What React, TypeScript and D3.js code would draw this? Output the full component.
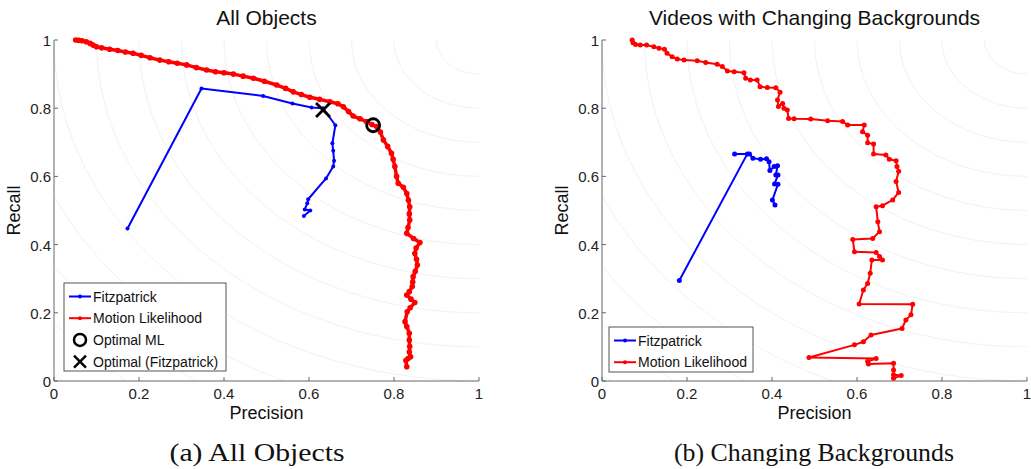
import React from 'react'
import * as d3 from 'd3'

// ---- data ----
const ticks = [0, 0.2, 0.4, 0.6, 0.8, 1]
const tickLabels = ['0', '0.2', '0.4', '0.6', '0.8', '1']
const arcRadii = [0.1, 0.2, 0.3, 0.4, 0.5, 0.6, 0.7, 0.8, 0.9, 1.0, 1.1, 1.2, 1.3, 1.4]

// (a) All Objects
const fitzAllP = [0.173, 0.347, 0.492, 0.561, 0.606, 0.633, 0.662, 0.655, 0.657, 0.659, 0.657, 0.640, 0.598, 0.596, 0.590, 0.603, 0.588]
const fitzAllR = [0.447, 0.858, 0.836, 0.814, 0.802, 0.800, 0.750, 0.697, 0.675, 0.646, 0.629, 0.594, 0.533, 0.521, 0.503, 0.500, 0.484]

const mlAllP = [0.051, 0.058, 0.066, 0.076, 0.085, 0.092, 0.100, 0.112, 0.131, 0.150, 0.168, 0.186, 0.205, 0.226, 0.249, 0.270, 0.290, 0.312, 0.335, 0.359, 0.380, 0.400, 0.422, 0.445, 0.469, 0.495, 0.524, 0.545, 0.563, 0.582, 0.602, 0.625, 0.649, 0.668, 0.681, 0.693, 0.704, 0.720, 0.735, 0.748, 0.759, 0.768, 0.775, 0.785, 0.794, 0.798, 0.802, 0.806, 0.810, 0.822, 0.830, 0.834, 0.837, 0.836, 0.837, 0.833, 0.830, 0.846, 0.861, 0.852, 0.849, 0.853, 0.855, 0.850, 0.845, 0.844, 0.843, 0.836, 0.830, 0.840, 0.849, 0.838, 0.831, 0.826, 0.830, 0.836, 0.836, 0.837, 0.836, 0.839, 0.833, 0.828, 0.830]
const mlAllR = [1.000, 0.999, 0.998, 0.995, 0.990, 0.985, 0.980, 0.977, 0.973, 0.969, 0.965, 0.961, 0.955, 0.948, 0.941, 0.936, 0.932, 0.927, 0.919, 0.912, 0.907, 0.904, 0.900, 0.894, 0.888, 0.879, 0.868, 0.858, 0.848, 0.840, 0.832, 0.826, 0.819, 0.813, 0.804, 0.790, 0.777, 0.769, 0.761, 0.752, 0.746, 0.730, 0.707, 0.688, 0.668, 0.650, 0.629, 0.600, 0.580, 0.568, 0.550, 0.530, 0.511, 0.490, 0.472, 0.450, 0.433, 0.418, 0.406, 0.390, 0.374, 0.357, 0.340, 0.322, 0.306, 0.290, 0.277, 0.262, 0.252, 0.240, 0.230, 0.215, 0.203, 0.174, 0.160, 0.140, 0.120, 0.101, 0.085, 0.071, 0.066, 0.060, 0.042]

const optMl = { p: 0.751, r: 0.750 }
const optFitz = { p: 0.633, r: 0.795 }

// (b) Changing Backgrounds
const fitzBgP = [0.182, 0.342, 0.312, 0.347, 0.355, 0.373, 0.387, 0.393, 0.395, 0.405, 0.413, 0.409, 0.414, 0.406, 0.414, 0.401, 0.407]
const fitzBgR = [0.295, 0.666, 0.666, 0.666, 0.653, 0.650, 0.652, 0.643, 0.617, 0.629, 0.631, 0.604, 0.604, 0.578, 0.577, 0.531, 0.516]

const mlBgP = [0.071, 0.073, 0.079, 0.090, 0.105, 0.122, 0.134, 0.147, 0.153, 0.165, 0.177, 0.193, 0.224, 0.244, 0.271, 0.283, 0.295, 0.311, 0.334, 0.338, 0.349, 0.365, 0.372, 0.389, 0.409, 0.419, 0.413, 0.415, 0.425, 0.428, 0.436, 0.439, 0.452, 0.491, 0.531, 0.566, 0.578, 0.617, 0.613, 0.625, 0.625, 0.639, 0.639, 0.668, 0.676, 0.692, 0.694, 0.698, 0.692, 0.698, 0.684, 0.660, 0.645, 0.649, 0.653, 0.637, 0.590, 0.594, 0.645, 0.653, 0.660, 0.635, 0.631, 0.625, 0.615, 0.605, 0.731, 0.727, 0.715, 0.706, 0.633, 0.615, 0.594, 0.487, 0.645, 0.625, 0.627, 0.686, 0.686, 0.686, 0.704, 0.686]
const mlBgR = [1.000, 0.992, 0.987, 0.985, 0.985, 0.980, 0.976, 0.973, 0.961, 0.951, 0.944, 0.941, 0.939, 0.934, 0.929, 0.922, 0.909, 0.907, 0.904, 0.888, 0.883, 0.883, 0.863, 0.861, 0.860, 0.847, 0.824, 0.805, 0.814, 0.800, 0.795, 0.770, 0.769, 0.768, 0.763, 0.761, 0.751, 0.751, 0.731, 0.721, 0.699, 0.695, 0.666, 0.663, 0.650, 0.646, 0.629, 0.615, 0.585, 0.553, 0.531, 0.514, 0.511, 0.467, 0.438, 0.418, 0.415, 0.379, 0.377, 0.365, 0.355, 0.355, 0.316, 0.286, 0.267, 0.226, 0.225, 0.194, 0.179, 0.154, 0.135, 0.115, 0.106, 0.069, 0.066, 0.057, 0.050, 0.052, 0.032, 0.018, 0.016, 0.008]

const SANS = '"Liberation Sans", Arial, Helvetica, sans-serif'
const SERIF = '"Liberation Serif", "DejaVu Serif", serif'
const AXIS = '#666'

type Series = { name: string; color: string; p: number[]; r: number[]; width: number; dot: number }

function Panel({ id, left, title, caption, series, markers, legend }: any) {
  const top = 40, bottom = 381, w = 425
  const x = d3.scaleLinear().domain([0, 1]).range([left, left + w])
  const y = d3.scaleLinear().domain([0, 1]).range([bottom, top])
  const line = d3.line<[number, number]>().x(d => x(d[0])).y(d => y(d[1]))
  const cx = x(1), cy = y(1)
  const midX = left + w / 2

  return (
    <g>
      <defs>
        <clipPath id={`clip-${id}`}>
          <rect x={left} y={top} width={w} height={bottom - top} />
        </clipPath>
      </defs>
      {/* background arcs around (1,1) */}
      <g clipPath={`url(#clip-${id})`}>
        {arcRadii.map(r => (
          <ellipse key={r} cx={cx} cy={cy} rx={x(r) - x(0)} ry={y(0) - y(r)} fill="none" stroke="#f2f2f2" strokeWidth={1} />
        ))}
      </g>
      {/* axes */}
      <line x1={left} x2={left} y1={top} y2={bottom} stroke={AXIS} />
      <line x1={left} x2={left + w} y1={bottom} y2={bottom} stroke={AXIS} />
      {ticks.map((t, i) => (
        <g key={`x${t}`}>
          <line x1={x(t)} x2={x(t)} y1={bottom} y2={bottom - 4} stroke={AXIS} />
          <text x={x(t)} y={bottom + 18} textAnchor="middle" fontFamily={SANS} fontSize={15} fill="#222">{tickLabels[i]}</text>
        </g>
      ))}
      {ticks.map((t, i) => (
        <g key={`y${t}`}>
          <line x1={left} x2={left + 4} y1={y(t)} y2={y(t)} stroke={AXIS} />
          <text x={left - 3} y={y(t) + 6} textAnchor="end" fontFamily={SANS} fontSize={15} fill="#222">{tickLabels[i]}</text>
        </g>
      ))}
      <text x={midX} y={25} textAnchor="middle" fontFamily={SANS} fontSize={21} fill="#111">{title}</text>
      <text x={midX} y={419} textAnchor="middle" fontFamily={SANS} fontSize={18} fill="#111">Precision</text>
      <text transform={`translate(${left - 34},${(top + bottom) / 2}) rotate(-90)`} textAnchor="middle" fontFamily={SANS} fontSize={18} fill="#111">Recall</text>
      <text x={caption.cx} y={461} textAnchor="middle" fontFamily={SERIF} fontSize={25} fill="#111" textLength={caption.len} lengthAdjust="spacingAndGlyphs">{caption.text}</text>

      {/* series */}
      {series.map((s: Series) => {
        const pts = s.p.map((p, i) => [p, s.r[i]] as [number, number])
        return (
          <g key={s.name}>
            <path d={line(pts) || ''} fill="none" stroke={s.color} strokeWidth={s.width} strokeLinejoin="round" />
            {pts.map((d, i) => <circle key={i} cx={x(d[0])} cy={y(d[1])} r={s.dot} fill={s.color} />)}
          </g>
        )
      })}

      {markers && (
        <g stroke="#000" strokeWidth={2.8} fill="none">
          <ellipse cx={x(markers.ml.p)} cy={y(markers.ml.r)} rx={6.5} ry={6.5} />
          <path d={`M${x(markers.fz.p) - 7},${y(markers.fz.r) - 7}L${x(markers.fz.p) + 7},${y(markers.fz.r) + 7}M${x(markers.fz.p) - 7},${y(markers.fz.r) + 7}L${x(markers.fz.p) + 7},${y(markers.fz.r) - 7}`} />
        </g>
      )}

      {/* legend */}
      <g>
        <rect x={legend.x} y={legend.y} width={legend.w} height={legend.h} fill="#fff" stroke="#555" strokeWidth={1} />
        {legend.items.map((it: any, i: number) => {
          const ly = legend.y + 13.5 + i * 21.7
          const lx = legend.x + 5
          return (
            <g key={it.label}>
              {it.kind === 'line' && (
                <g>
                  <line x1={lx} x2={lx + 22} y1={ly} y2={ly} stroke={it.color} strokeWidth={2} />
                  <circle cx={lx + 11} cy={ly} r={2} fill={it.color} />
                </g>
              )}
              {it.kind === 'o' && <circle cx={lx + 11} cy={ly} r={6} fill="none" stroke="#000" strokeWidth={2.5} />}
              {it.kind === 'x' && <path d={`M${lx + 5},${ly - 6}L${lx + 17},${ly + 6}M${lx + 5},${ly + 6}L${lx + 17},${ly - 6}`} stroke="#000" strokeWidth={2.5} />}
              <text x={lx + 24} y={ly + 5} fontFamily={SANS} fontSize={14} fill="#111">{it.label}</text>
            </g>
          )
        })}
      </g>
    </g>
  )
}

export default function App() {
  const seriesA: Series[] = [
    { name: 'Fitzpatrick', color: '#0000ff', p: fitzAllP, r: fitzAllR, width: 2, dot: 2 },
    { name: 'Motion Likelihood', color: '#ff0000', p: mlAllP, r: mlAllR, width: 3.5, dot: 2.8 },
  ]
  const seriesB: Series[] = [
    { name: 'Fitzpatrick', color: '#0000ff', p: fitzBgP, r: fitzBgR, width: 2, dot: 2.5 },
    { name: 'Motion Likelihood', color: '#ff0000', p: mlBgP, r: mlBgR, width: 2, dot: 2.5 },
  ]
  return (
    <svg width={1031} height={469} style={{ position: 'absolute', left: 0, top: 0, background: '#fff' }}>
      <rect width={1031} height={469} fill="#fff" />
      <Panel
        id="a" left={54} title="All Objects" caption={{ text: '(a) All Objects', cx: 257, len: 175 }} series={seriesA}
        markers={{ ml: optMl, fz: optFitz }}
        legend={{
          x: 64, y: 283, w: 162, h: 88,
          items: [
            { kind: 'line', color: '#0000ff', label: 'Fitzpatrick' },
            { kind: 'line', color: '#ff0000', label: 'Motion Likelihood' },
            { kind: 'o', label: 'Optimal ML' },
            { kind: 'x', label: 'Optimal (Fitzpatrick)' },
          ],
        }}
      />
      <Panel
        id="b" left={602} title="Videos with Changing Backgrounds" caption={{ text: '(b) Changing Backgrounds', cx: 814, len: 280 }} series={seriesB}
        legend={{
          x: 609, y: 327, w: 144, h: 45,
          items: [
            { kind: 'line', color: '#0000ff', label: 'Fitzpatrick' },
            { kind: 'line', color: '#ff0000', label: 'Motion Likelihood' },
          ],
        }}
      />
    </svg>
  )
}
